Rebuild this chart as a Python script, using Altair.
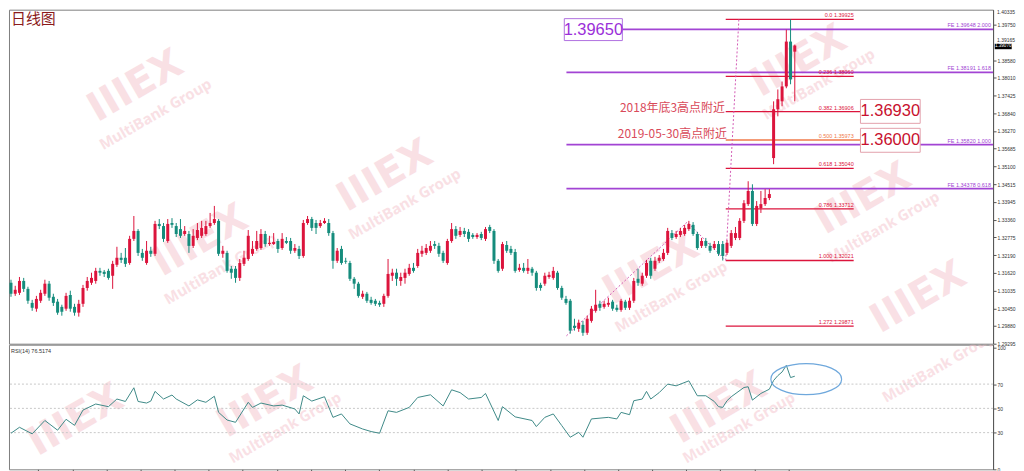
import altair as alt
import pandas as pd

# ---------------- candle data (USD/CAD daily) ----------------
open_ = [1.3129,1.3093,1.3096,1.3135,1.3109,1.3063,1.3044,1.3070,1.3093,1.3126,
         1.3083,1.3067,1.3050,1.3044,1.3089,1.3050,1.3031,1.3060,1.3112,1.3129,
         1.3135,1.3168,1.3165,1.3168,1.3152,1.3188,1.3211,1.3211,1.3194,1.3273,
         1.3299,1.3227,1.3194,1.3234,1.3224,1.3322,1.3315,1.3266,1.3325,1.3315,
         1.3305,1.3289,1.3289,1.3250,1.3276,1.3283,1.3289,1.3315,1.3325,1.3332,
         1.3224,1.3227,1.3175,1.3175,1.3145,1.3191,1.3207,1.3224,1.3240,1.3243,
         1.3289,1.3256,1.3256,1.3266,1.3243,1.3266,1.3266,1.3234,1.3240,1.3217,
         1.3325,1.3338,1.3325,1.3315,1.3325,1.3325,1.3292,1.3201,1.3240,1.3201,
         1.3194,1.3142,1.3126,1.3083,1.3093,1.3073,1.3070,1.3063,1.3060,1.3086,
         1.3152,1.3162,1.3135,1.3145,1.3158,1.3178,1.3184,1.3224,1.3227,1.3234,
         1.3256,1.3250,1.3227,1.3194,1.3266,1.3305,1.3286,1.3299,1.3296,1.3286,
         1.3279,1.3289,1.3273,1.3312,1.3299,1.3201,1.3175,1.3253,1.3240,1.3230,
         1.3171,1.3178,1.3168,1.3175,1.3162,1.3122,1.3126,1.3148,1.3145,1.3162,
         1.3112,1.3076,1.3070,1.2988,1.2978,1.2991,1.2965,1.3004,1.3037,1.3060,
         1.3050,1.3057,1.3067,1.3047,1.3040,1.3067,1.3047,1.3070,1.3142,1.3126,
         1.3152,1.3201,1.3175,1.3201,1.3207,1.3227,1.3292,1.3279,1.3286,1.3289,
         1.3305,1.3319,1.3289,1.3250,1.3266,1.3250,1.3243,1.3256,1.3256,1.3227,
         1.3250,1.3276,1.3276,1.3332,1.3387,1.3430,1.3322,1.3374,1.3387,1.3407,
         1.3538,1.3698,1.3724,1.3773,1.3920,1.3887]
close = [1.3093,1.3106,1.3135,1.3109,1.3070,1.3047,1.3076,1.3096,1.3126,1.3080,
         1.3063,1.3031,1.3034,1.3086,1.3044,1.3031,1.3060,1.3112,1.3135,1.3145,
         1.3168,1.3162,1.3158,1.3145,1.3191,1.3211,1.3204,1.3191,1.3273,1.3299,
         1.3227,1.3211,1.3234,1.3224,1.3322,1.3315,1.3273,1.3322,1.3319,1.3289,
         1.3283,1.3299,1.3250,1.3283,1.3302,1.3309,1.3315,1.3325,1.3338,1.3224,
         1.3234,1.3168,1.3162,1.3145,1.3194,1.3211,1.3283,1.3240,1.3266,1.3289,
         1.3256,1.3260,1.3263,1.3240,1.3273,1.3260,1.3234,1.3243,1.3217,1.3325,
         1.3338,1.3309,1.3309,1.3325,1.3332,1.3292,1.3201,1.3234,1.3194,1.3198,
         1.3142,1.3126,1.3086,1.3093,1.3070,1.3063,1.3060,1.3057,1.3086,1.3158,
         1.3162,1.3142,1.3148,1.3162,1.3178,1.3168,1.3227,1.3234,1.3243,1.3250,
         1.3250,1.3224,1.3201,1.3266,1.3305,1.3283,1.3299,1.3289,1.3273,1.3279,
         1.3286,1.3276,1.3305,1.3299,1.3201,1.3168,1.3256,1.3234,1.3227,1.3168,
         1.3178,1.3168,1.3178,1.3162,1.3112,1.3112,1.3152,1.3155,1.3168,1.3112,
         1.3080,1.3063,1.2972,1.2981,1.2998,1.2965,1.3011,1.3044,1.3057,1.3047,
         1.3060,1.3063,1.3044,1.3040,1.3070,1.3047,1.3070,1.3135,1.3129,1.3152,
         1.3194,1.3152,1.3201,1.3211,1.3227,1.3299,1.3276,1.3289,1.3299,1.3309,
         1.3322,1.3289,1.3243,1.3266,1.3250,1.3234,1.3256,1.3224,1.3217,1.3260,
         1.3292,1.3292,1.3332,1.3390,1.3430,1.3322,1.3381,1.3387,1.3407,1.3420,
         1.3698,1.3731,1.3773,1.3920,1.3796,1.3907]
high = [1.3139,1.3119,1.3148,1.3145,1.3116,1.3073,1.3086,1.3106,1.3139,1.3135,
        1.3093,1.3076,1.3057,1.3096,1.3103,1.3060,1.3073,1.3122,1.3148,1.3162,
        1.3178,1.3178,1.3171,1.3175,1.3201,1.3247,1.3227,1.3243,1.3283,1.3348,
        1.3305,1.3240,1.3266,1.3247,1.3332,1.3338,1.3325,1.3338,1.3341,1.3325,
        1.3338,1.3315,1.3299,1.3305,1.3325,1.3332,1.3332,1.3358,1.3381,1.3338,
        1.3250,1.3234,1.3184,1.3184,1.3207,1.3234,1.3302,1.3266,1.3299,1.3305,
        1.3299,1.3283,1.3292,1.3273,1.3292,1.3279,1.3276,1.3256,1.3250,1.3335,
        1.3348,1.3345,1.3335,1.3335,1.3341,1.3338,1.3299,1.3243,1.3250,1.3211,
        1.3201,1.3148,1.3132,1.3103,1.3099,1.3083,1.3076,1.3070,1.3093,1.3207,
        1.3175,1.3175,1.3162,1.3175,1.3191,1.3194,1.3240,1.3250,1.3256,1.3266,
        1.3266,1.3260,1.3234,1.3273,1.3325,1.3315,1.3312,1.3309,1.3305,1.3292,
        1.3292,1.3296,1.3312,1.3319,1.3305,1.3207,1.3263,1.3266,1.3250,1.3240,
        1.3191,1.3194,1.3207,1.3181,1.3168,1.3129,1.3162,1.3165,1.3181,1.3168,
        1.3119,1.3086,1.3076,1.3011,1.3008,1.3004,1.3021,1.3053,1.3106,1.3070,
        1.3070,1.3080,1.3073,1.3057,1.3076,1.3073,1.3080,1.3145,1.3175,1.3162,
        1.3204,1.3211,1.3214,1.3220,1.3240,1.3309,1.3302,1.3299,1.3309,1.3319,
        1.3332,1.3328,1.3296,1.3276,1.3276,1.3260,1.3266,1.3266,1.3266,1.3269,
        1.3302,1.3312,1.3341,1.3400,1.3462,1.3452,1.3397,1.3430,1.3436,1.3436,
        1.3724,1.3763,1.3789,1.3959,1.39925,1.3910]
low = [1.3083,1.3086,1.3089,1.3099,1.3060,1.3037,1.3034,1.3063,1.3086,1.3070,
       1.3053,1.3024,1.3021,1.3037,1.3034,1.3021,1.3018,1.3050,1.3103,1.3122,
       1.3126,1.3152,1.3148,1.3139,1.3109,1.3181,1.3194,1.3181,1.3188,1.3266,
       1.3217,1.3201,1.3188,1.3214,1.3217,1.3305,1.3263,1.3260,1.3309,1.3279,
       1.3276,1.3283,1.3227,1.3243,1.3269,1.3276,1.3283,1.3309,1.3319,1.3217,
       1.3211,1.3162,1.3142,1.3129,1.3135,1.3184,1.3201,1.3217,1.3234,1.3237,
       1.3247,1.3250,1.3253,1.3227,1.3237,1.3256,1.3224,1.3227,1.3207,1.3211,
       1.3319,1.3299,1.3289,1.3309,1.3322,1.3283,1.3175,1.3194,1.3188,1.3191,
       1.3135,1.3109,1.3080,1.3076,1.3063,1.3057,1.3053,1.3050,1.3050,1.3080,
       1.3135,1.3119,1.3119,1.3126,1.3152,1.3162,1.3178,1.3214,1.3220,1.3227,
       1.3240,1.3214,1.3194,1.3188,1.3260,1.3273,1.3279,1.3279,1.3263,1.3273,
       1.3273,1.3269,1.3266,1.3292,1.3191,1.3162,1.3168,1.3227,1.3220,1.3162,
       1.3165,1.3162,1.3158,1.3152,1.3103,1.3103,1.3119,1.3142,1.3139,1.3106,
       1.3073,1.3057,1.2962,1.2972,1.2968,1.2955,1.2958,1.2998,1.3031,1.3037,
       1.3044,1.3050,1.3037,1.3034,1.3034,1.3040,1.3040,1.3063,1.3119,1.3119,
       1.3145,1.3142,1.3168,1.3194,1.3201,1.3220,1.3269,1.3273,1.3279,1.3283,
       1.3299,1.3283,1.3237,1.3243,1.3243,1.3227,1.3237,1.3217,1.3202,1.3220,
       1.3243,1.3269,1.3269,1.3325,1.3381,1.3315,1.3315,1.3358,1.3381,1.3400,
       1.3518,1.3675,1.3708,1.3767,1.3780,1.3724]

# ---------------- RSI(14) ----------------
rsi_idx = [0,2,5,8,11,13,15,17,20,23,25,27,29,30,32,33,34,36,38,39,
           42,44,46,48,49,51,53,56,57,59,62,64,67,68,69,71,74,76,78,80,
           83,85,87,89,91,94,96,99,102,104,106,108,111,112,115,116,119,123,124,126,
           128,130,132,134,135,137,141,143,144,146,147,149,150,151,153,155,157,160,162,164,
           166,167,168,169,170,173,174,175,177,179,180,181,182,183,184,185]
rsi_val = [29.5,34.4,29,40,32,41,36,48.6,53.6,51.4,57.7,55.7,67,55.7,54.4,56,64,57.7,61,57.7,
           52,57,55,60,46.7,40.4,38.5,55,50.8,54.4,52,52.7,49.5,45.4,60.4,56,59.6,42.6,45.4,37.2,
           33,30.9,29.5,48,46.7,50.8,59,61.2,52,65.3,63,57.7,59,62.3,40,51.4,43,40,35,42.6,
           45.4,35.8,26.2,30.3,26.2,41.3,42.6,41.3,46.7,44.8,56.3,57.7,64,57.7,63,70,68.6,72.7,60.4,60.4,
           55.7,51.4,50.8,56.3,59.6,67.2,67.8,56.8,62.3,65.8,73,77,80,85.5,75.4,76.5]

# ---------------- axes ----------------
# labels drawn beside the axis (top one and the one shifted above the price tag)
side_labels = ["1.40335", "1.39165"]
side_label_y = [1.40246, 1.39243]
price_ticks = [1.39750,1.38580,1.38010,1.37425,1.36840,1.36270,1.35685,1.35100,
               1.34515,1.33945,1.33360,1.32775,1.32190,1.31620,1.31035,1.30450,1.29880,1.29295]
rsi_ticks = [0, 30, 50, 70, 100]
rsi_grid = [30, 50, 70]
time_ticks = [6.4,14.5,22.5,30.6,38.6,46.7,54.7,62.8,70.8,78.9,86.9,95.0,103.0,111.1,
              119.1,127.2,135.2,143.3,151.3,159.4,167.4,175.5,183.5]

# ---------------- Fibonacci / FE annotations ----------------
fib_levels = ["0.0","0.236","0.382","0.500","0.618","0.786","1.000","1.272"]
fib_prices = [1.39925,1.38060,1.36906,1.35973,1.35040,1.33712,1.32021,1.29871]
fib_end = [198.9,198.9,200.5,200.5,198.9,198.9,198.9,198.9]
fib_colors = ["#DC143C","#DC143C","#DC143C","#F07A4A","#DC143C","#DC143C","#DC143C","#DC143C"]
fe_prices = [1.39600,1.38191,1.35820,1.34378]
fe_labels = ["FE 1.39648  2.000","FE 1.38191  1.618","FE 1.35820  1.000","FE 1.34378  0.618"]

box_text = ["1.39650","1.36930","1.36000"]
box_x = [130.6,200.5,200.5]
box_x2 = [144.3,214.6,214.6]
box_top = [1.39952,1.37303,1.36355]
box_bot = [1.39233,1.36519,1.35570]
box_mid = [1.39592,1.36911,1.35963]
box_textc = ["#9B30D9","#C8102E","#C8102E"]
box_stroke = ["#B070E0","#E3A1AC","#E3A1AC"]

note_text = ["2018年底3高点附近","2019-05-30高点附近"]
note_x = [168.5,169.0]
note_y = [1.37009,1.36159]

fib_diag_x = [168.7,171.8]
fib_diag_y = [1.32021,1.39925]
fe_path_x = [131.1,159.6,168.3]
fe_path_y = [1.2955,1.3328,1.3207]

wm_x = [29.4,88.3,186.0,201.2,44.7,151.1,214.2]
wm_y = [1.37728,1.34785,1.38550,1.34033,1.32660,1.31744,1.30800]
wmt_x = [34.1,92.9,190.6,205.9,49.4,155.8]
wmt_y = [1.36813,1.33870,1.37800,1.33118,1.31744,1.30829]
rwm_x = [60.0,167.1,15.3]
rwm_y = [55.0,50.0,40.0]
rwmt_x = [64.7,171.8,218.9]
rwmt_y = [34.0,34.0,84.0]

RED = "#DC143C"
TEAL = "#158C7C"
PURPLE = "#A244D4"
XMAX = 231.8

X = alt.Scale(domain=[-0.47, XMAX], nice=False, zero=False, padding=0)
Y = alt.Scale(domain=[1.29292, 1.40246], nice=False, zero=False, padding=0)
R = alt.Scale(domain=[-0.25, 102.5], nice=False, zero=False, padding=0)

yaxis = alt.Axis(orient="right", values=price_ticks, format=".5f", title=None, grid=False,
                 labelFontSize=5, labelFont="Liberation Sans", labelColor="#333333",
                 tickSize=3, tickColor="#555555", domainColor="#555555", labelPadding=1,
                 labelOverlap=False, labelFlush=False)
raxis = alt.Axis(orient="right", values=rsi_ticks, format="d", title=None, grid=False,
                 labelFontSize=5, labelFont="Liberation Sans", labelColor="#333333",
                 tickSize=3, tickColor="#555555", domainColor="#555555", labelPadding=1,
                 labelOverlap=False, labelFlush=False)
txaxis = alt.Axis(values=time_ticks, labels=False, title=None, grid=False, tickSize=3,
                  tickColor="#555555", domain=False)

def px(field):
    return alt.X(field, type="quantitative", scale=X, axis=None)

def py(field):
    return alt.Y(field, type="quantitative", scale=Y, axis=yaxis)

def rx(field):
    return alt.X(field, type="quantitative", scale=X, axis=txaxis)

def ry(field):
    return alt.Y(field, type="quantitative", scale=R, axis=raxis)

n = len(close)
cdf = pd.DataFrame({"i": list(range(n)), "o": open_, "c": close,
                    "h": [max(a, b, c) for a, b, c in zip(high, open_, close)],
                    "l": [min(a, b, c) for a, b, c in zip(low, open_, close)]})
cdf["dir"] = ["up" if c >= o else "down" for o, c in zip(open_, close)]
ccol = alt.Color("dir:N", scale=alt.Scale(domain=["up", "down"], range=[RED, TEAL]), legend=None)

# watermarks (clipped to each panel)
wm = alt.Chart(pd.DataFrame({"x": wm_x, "y": wm_y, "t": ["IIIEX"] * len(wm_x)})).mark_text(
    angle=330, font="DejaVu Sans", fontWeight="bold", fontSize=40, color="#F4C2CB", opacity=0.5,
    clip=True).encode(x=px("x"), y=py("y"), text="t:N")
wmt = alt.Chart(pd.DataFrame({"x": wmt_x, "y": wmt_y, "t": ["MultiBank Group"] * len(wmt_x)})).mark_text(
    angle=330, font="Noto Sans", fontWeight="bold", fontSize=15, color="#F4C2CB", opacity=0.5,
    clip=True).encode(x=px("x"), y=py("y"), text="t:N")

fe_df = pd.DataFrame({"p": fe_prices, "x": [131.1] * 4, "x2": [XMAX] * 4, "t": fe_labels,
                      "lx": [231.3] * 4})
fe_lines = alt.Chart(fe_df).mark_rule(color=PURPLE, strokeWidth=1.8).encode(
    x=px("x"), x2="x2:Q", y=py("p"))
fe_text = alt.Chart(fe_df).mark_text(align="right", baseline="bottom", dy=-1, fontSize=5.5,
                                     font="Liberation Sans", color=PURPLE).encode(
    x=px("lx"), y=py("p"), text="t:N")

fib_df = pd.DataFrame({"p": fib_prices, "x": [168.7] * 8, "x2": fib_end,
                       "t": [f"{a} {b:.5f}" for a, b in zip(fib_levels, fib_prices)],
                       "lx": [198.9] * 8, "col": fib_colors})
fib_lines = alt.Chart(fib_df).mark_rule(strokeWidth=1.3).encode(
    x=px("x"), x2="x2:Q", y=py("p"), color=alt.Color("col:N", scale=None))
fib_text = alt.Chart(fib_df).mark_text(align="right", baseline="bottom", dy=-1, fontSize=5.5,
                                       font="Liberation Sans").encode(
    x=px("lx"), y=py("p"), text="t:N", color=alt.Color("col:N", scale=None))

dots_df = pd.DataFrame({"x": fib_diag_x + fe_path_x, "y": fib_diag_y + fe_path_y,
                        "g": ["a"] * 2 + ["b"] * 3, "o": [0, 1, 0, 1, 2]})
dots = alt.Chart(dots_df).mark_line(color="#D35BB5", strokeWidth=1, strokeDash=[2, 2]).encode(
    x=px("x"), y=py("y"), detail="g:N", order="o:Q")

wicks = alt.Chart(cdf).mark_rule(strokeWidth=1).encode(
    x=px("i"), y=py("l"), y2="h:Q", color=ccol)
bodies = alt.Chart(cdf).mark_bar(size=3).encode(
    x=px("i"), y=py("o"), y2="c:Q", color=ccol)

notes = alt.Chart(pd.DataFrame({"x": note_x, "y": note_y, "t": note_text})).mark_text(
    align="right", baseline="middle", fontSize=12, font="Noto Sans CJK SC", color="#D94A5A"
).encode(x=px("x"), y=py("y"), text="t:N")

box_df = pd.DataFrame({"x": box_x, "x2": box_x2, "y": box_top, "y2": box_bot, "m": box_mid,
                       "t": box_text, "tc": box_textc, "sc": box_stroke,
                       "cx": [(a + b) / 2 for a, b in zip(box_x, box_x2)]})
boxes = alt.Chart(box_df).mark_rect(fill="white", strokeWidth=1).encode(
    x=px("x"), x2="x2:Q", y=py("y"), y2="y2:Q", stroke=alt.Stroke("sc:N", scale=None))
box_t = alt.Chart(box_df).mark_text(fontSize=16.5, font="Liberation Sans", baseline="middle").encode(
    x=px("cx"), y=py("m"), text="t:N", color=alt.Color("tc:N", scale=None))

tag_df = pd.DataFrame({"x": [232.2], "x2": [236.2], "y": [1.39130], "y2": [1.38950],
                       "m": [1.39040], "cx": [234.2], "t": ["1.39070"]})
tag = alt.Chart(tag_df).mark_rect(color="black").encode(x=px("x"), x2="x2:Q", y=py("y"), y2="y2:Q")
tag_t = alt.Chart(tag_df).mark_text(fontSize=4.6, font="Liberation Sans", color="white",
                                    baseline="middle").encode(x=px("cx"), y=py("m"), text="t:N")

side_df = pd.DataFrame({"x": [XMAX] * 2, "y": side_label_y, "t": side_labels})
side_top = alt.Chart(side_df.iloc[[0]]).mark_text(
    align="left", baseline="top", dx=4, fontSize=5, font="Liberation Sans", color="#333333"
).encode(x=px("x"), y=py("y"), text="t:N")
side_mid = alt.Chart(side_df.iloc[[1]]).mark_text(
    align="left", baseline="middle", dx=4, fontSize=5, font="Liberation Sans", color="#333333"
).encode(x=px("x"), y=py("y"), text="t:N")

title = alt.Chart(pd.DataFrame({"t": ["日线图"]})).mark_text(
    align="left", baseline="top", fontSize=15, font="Noto Sans CJK SC", color="#8B1A1A"
).encode(x=alt.value(2), y=alt.value(2), text="t:N")

main = alt.layer(wm, wmt, fe_lines, fib_lines, dots, wicks, bodies, fe_text, fib_text, notes,
                 boxes, box_t, tag, tag_t, side_top, side_mid, title).properties(width=987, height=335)

# ---------------- RSI panel ----------------
rsi_df = pd.DataFrame({"i": rsi_idx, "v": rsi_val})
rwm = alt.Chart(pd.DataFrame({"x": rwm_x, "y": rwm_y, "t": ["IIIEX"] * len(rwm_x)})).mark_text(
    angle=330, font="DejaVu Sans", fontWeight="bold", fontSize=40, color="#F4C2CB", opacity=0.5,
    clip=True).encode(x=rx("x"), y=ry("y"), text="t:N")
rwmt = alt.Chart(pd.DataFrame({"x": rwmt_x, "y": rwmt_y, "t": ["MultiBank Group"] * len(rwmt_x)})).mark_text(
    angle=330, font="Noto Sans", fontWeight="bold", fontSize=15, color="#F4C2CB", opacity=0.5,
    clip=True).encode(x=rx("x"), y=ry("y"), text="t:N")
grid = alt.Chart(pd.DataFrame({"v": rsi_grid})).mark_rule(
    color="#C8C8C8", strokeDash=[2, 2], strokeWidth=1).encode(y=ry("v"))
rline = alt.Chart(rsi_df).mark_line(color="#3F8A88", strokeWidth=1).encode(x=rx("i"), y=ry("v"))
ell = alt.Chart(pd.DataFrame({"x": [187.7], "y": [74.1]})).mark_point(
    shape="M -1 0 A 1 0.44 0 1 0 1 0 A 1 0.44 0 1 0 -1 0 Z", size=5041, filled=False,
    stroke="#6FA8DC", strokeWidth=1.2, opacity=1).encode(x=rx("x"), y=ry("y"))
rlabel = alt.Chart(pd.DataFrame({"t": ["RSI(14) 76.5174"]})).mark_text(
    align="left", baseline="middle", fontSize=5.5, font="Liberation Sans", color="#333333"
).encode(x=alt.value(2), y=alt.value(6), text="t:N")

rsi = alt.layer(rwm, rwmt, grid, rline, ell, rlabel).properties(width=987, height=125)

chart = alt.vconcat(main, rsi, spacing=1, bounds="flush").properties(
    padding={"left": 0, "right": 0, "top": 0, "bottom": 0}, background="white"
).configure_view(stroke="#7F7F7F", strokeWidth=1)

chart.save("out.html", embed_options={"renderer": "svg", "actions": False})
